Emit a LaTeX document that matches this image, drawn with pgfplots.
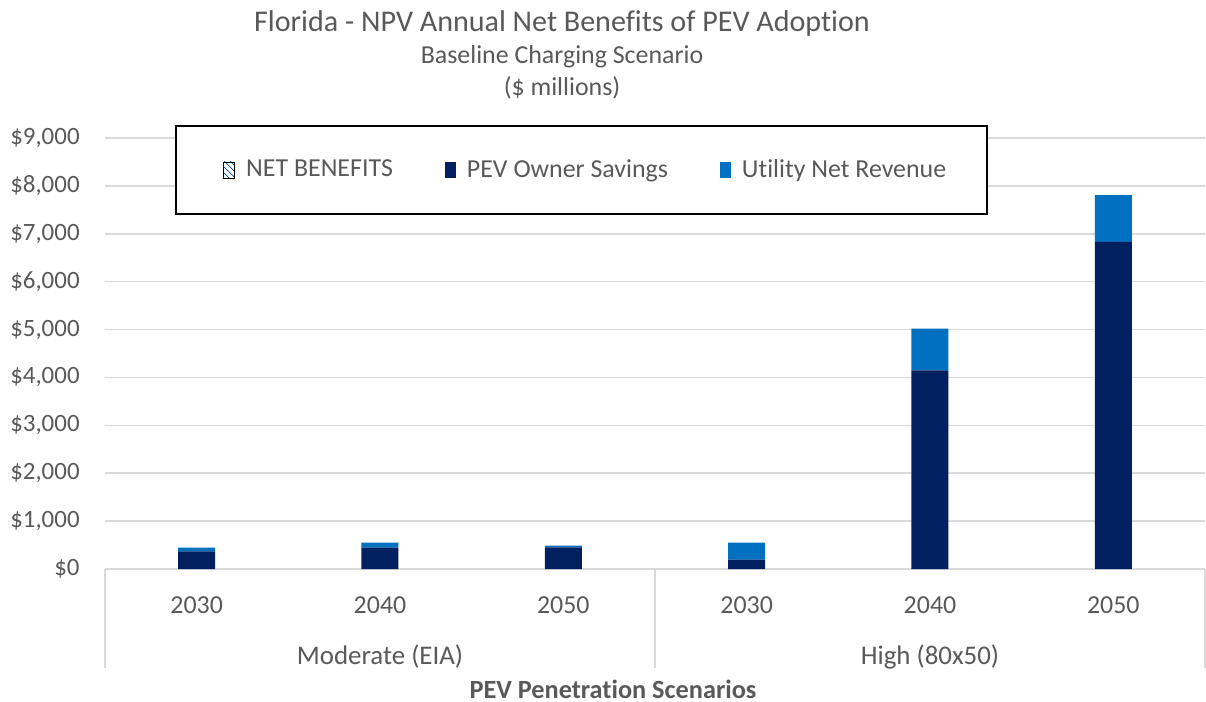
\documentclass[border=0pt]{standalone}
\usepackage{fontspec}
\setmainfont{Carlito}[Ligatures=NoCommon]
\usepackage{pgfplots}
\pgfplotsset{compat=1.18}
\usetikzlibrary{patterns}
\definecolor{ownerblue}{HTML}{002060}
\definecolor{utilblue}{HTML}{0070C0}
\definecolor{txtgray}{HTML}{595959}
\definecolor{gridgray}{HTML}{D9D9D9}
\pgfplotsset{sq legend/.style={legend image code/.code={\fill[##1] (0bp,-4bp) rectangle (5.5bp,4bp); \path (9bp,0bp);}}}

\begin{document}
\begin{tikzpicture}
\path[use as bounding box] (-52.5bp,-66.5bp) rectangle (550.5bp,284.5bp);
\begin{axis}[
  at={(0,0)}, anchor=south west,
  scale only axis, width=550bp, height=215.5bp,
  ybar stacked, bar width=18.5bp,
  xmin=-0.5, xmax=5.5, ymin=0, ymax=9000,
  xtick={0,...,5},
  xticklabels={2030,2040,2050,2030,2040,2050},
  ytick={0,1000,...,9000},
  yticklabels={\$0,{\$1,000},{\$2,000},{\$3,000},{\$4,000},{\$5,000},{\$6,000},{\$7,000},{\$8,000},{\$9,000}},
  axis line style={draw=none},
  major tick length=0pt,
  ymajorgrids, grid style={gridgray, line width=0.8bp},
  tick label style={text=txtgray, font=\fontsize{12.5}{15}\selectfont},
  yticklabel style={anchor=east, inner sep=0pt, xshift=-12.5bp},
  xticklabel style={anchor=base, inner sep=0pt, yshift=-22bp, font=\fontsize{13}{15}\selectfont},
  clip=false,
  legend columns=3,
  legend style={at={(rel axis cs:0.438,0.9258)}, anchor=center, draw=none, fill=none,
    font=\fontsize{13}{15}\selectfont, text=txtgray,
    /tikz/every even column/.append style={column sep=24bp}},
  legend cell align=left,
]
\draw[black, fill=white, line width=1bp] (rel axis cs:0.0645,1.0278) rectangle (rel axis cs:0.8018,0.8237);
\addlegendimage{legend image code/.code={\fill[pattern=north west lines, pattern color=utilblue!60!ownerblue] (0bp,-4bp) rectangle (5.5bp,4bp); \path (9bp,0bp);}}
\addlegendentry{NET BENEFITS}
\addplot[fill=ownerblue, draw=none, sq legend] coordinates {(0,368) (1,445) (2,451) (3,194) (4,4146) (5,6833)};
\addlegendentry{PEV Owner Savings}
\addplot[fill=utilblue, draw=none, sq legend] coordinates {(0,77) (1,104) (2,35) (3,355) (4,871) (5,975)};
\addlegendentry{Utility Net Revenue}
% category separators
\draw[gridgray, line width=0.8bp] (axis cs:-0.5,0) -- ([yshift=-49.5bp]axis cs:-0.5,0);
\draw[gridgray, line width=0.8bp] (axis cs:2.5,0) -- ([yshift=-49.5bp]axis cs:2.5,0);
\draw[gridgray, line width=0.8bp] (axis cs:5.5,0) -- ([yshift=-49.5bp]axis cs:5.5,0);
\node[anchor=base, text=txtgray, font=\fontsize{13.5}{16}\selectfont] at ([yshift=-47.5bp]axis cs:1,0) {Moderate (EIA)};
\node[anchor=base, text=txtgray, font=\fontsize{13.5}{16}\selectfont] at ([yshift=-47.5bp]axis cs:4,0) {High (80x50)};
\node[anchor=base, text=txtgray, font=\bfseries\fontsize{13.2}{16}\selectfont] at ([yshift=-64.5bp]rel axis cs:0.4618,0) {PEV Penetration Scenarios};
% titles
\node[anchor=base, text=txtgray, font=\fontsize{15.1}{18}\selectfont] at ([yshift=53bp]rel axis cs:0.4155,1) {Florida - NPV Annual Net Benefits of PEV Adoption};
\node[anchor=base, text=txtgray, font=\fontsize{13}{15}\selectfont] at ([yshift=37bp]rel axis cs:0.4155,1) {Baseline Charging Scenario};
\node[anchor=base, text=txtgray, font=\fontsize{13}{15}\selectfont] at ([yshift=21bp]rel axis cs:0.4155,1) {(\$ millions)};
\end{axis}
\end{tikzpicture}
\end{document}
